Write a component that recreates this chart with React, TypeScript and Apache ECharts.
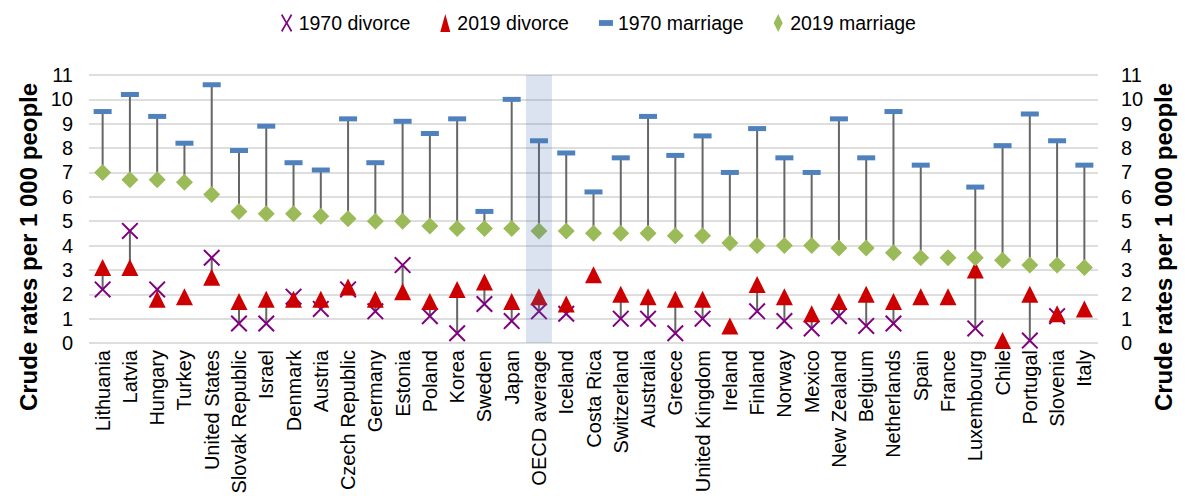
import React, { useEffect, useRef } from "react";
import * as echarts from "echarts";

const categories = [
  "Lithuania", "Latvia", "Hungary", "Turkey", "United States", "Slovak Republic", "Israel",
  "Denmark", "Austria", "Czech Republic", "Germany", "Estonia", "Poland", "Korea", "Sweden",
  "Japan", "OECD average", "Iceland", "Costa Rica", "Switzerland", "Australia", "Greece",
  "United Kingdom", "Ireland", "Finland", "Norway", "Mexico", "New Zealand", "Belgium",
  "Netherlands", "Spain", "France", "Luxembourg", "Chile", "Portugal", "Slovenia", "Italy",
];

const divorce1970 = [
  2.2, 4.6, 2.2, null, 3.5, 0.8, 0.8, 1.9, 1.4, 2.2, 1.3, 3.2, 1.1, 0.4, 1.6, 0.9, 1.3, 1.2,
  null, 1.0, 1.0, 0.4, 1.0, null, 1.3, 0.9, 0.6, 1.1, 0.7, 0.8, null, null, 0.6, null, 0.1, 1.1, null,
];

const divorce2019 = [
  3.1, 3.1, 1.8, 1.9, 2.7, 1.7, 1.8, 1.8, 1.8, 2.3, 1.8, 2.1, 1.7, 2.2, 2.5, 1.7, 1.9, 1.6,
  2.8, 2.0, 1.9, 1.8, 1.8, 0.7, 2.4, 1.9, 1.2, 1.7, 2.0, 1.7, 1.9, 1.9, 3.0, 0.1, 2.0, 1.2, 1.4,
];

const marriage1970 = [
  9.5, 10.2, 9.3, 8.2, 10.6, 7.9, 8.9, 7.4, 7.1, 9.2, 7.4, 9.1, 8.6, 9.2, 5.4, 10.0, 8.3, 7.8,
  6.2, 7.6, 9.3, 7.7, 8.5, 7.0, 8.8, 7.6, 7.0, 9.2, 7.6, 9.5, 7.3, null, 6.4, 8.1, 9.4, 8.3, 7.3,
];

const marriage2019 = [
  7.0, 6.7, 6.7, 6.6, 6.1, 5.4, 5.3, 5.3, 5.2, 5.1, 5.0, 5.0, 4.8, 4.7, 4.7, 4.7, 4.6, 4.6,
  4.5, 4.5, 4.5, 4.4, 4.4, 4.1, 4.0, 4.0, 4.0, 3.9, 3.9, 3.7, 3.5, 3.5, 3.5, 3.4, 3.2, 3.2, 3.1,
];

const yTicks = ["0", "1", "2", "3", "4", "5", "6", "7", "8", "9", "10", "11"];
const highlighted = "OECD average";
const axisTitle = "Crude rates per 1 000 people";

const FONT = '"Liberation Sans", Arial, sans-serif';
const X_PATH =
  "path://M0,1.4L1.4,0L8.5,7.1L15.6,0L17,1.4L9.9,8.5L17,15.6L15.6,17L8.5,9.9L1.4,17L0,15.6L7.1,8.5Z";
const X_ICON =
  "path://M0,1.2L1.2,0L5,6.6L8.8,0L10,1.2L5.9,8L10,14.8L8.8,16L5,9.4L1.2,16L0,14.8L4.1,8Z";

function pairs(a: (number | null)[], b: (number | null)[]) {
  const out: number[][] = [];
  a.forEach((v, i) => {
    const w = b[i];
    if (v != null && w != null) out.push([i, v, w]);
  });
  return out;
}

function connector(params: any, api: any) {
  const p1 = api.coord([api.value(0), api.value(1)]);
  const p2 = api.coord([api.value(0), api.value(2)]);
  return {
    type: "line",
    shape: { x1: p1[0], y1: p1[1], x2: p2[0], y2: p2[1] },
    style: { stroke: "#666666", lineWidth: 2 },
  };
}

export default function App() {
  const ref = useRef<HTMLDivElement>(null);
  useEffect(() => {
    if (!ref.current) return;
    const chart = echarts.init(ref.current, null, { renderer: "svg" });
    const yLabel = {
      fontFamily: FONT,
      fontSize: 20,
      color: "#000",
      showMinLabel: true,
      showMaxLabel: true,
      hideOverlap: false,
      formatter: (v: number) => yTicks[Math.round(v)],
    };
    const option: any = {
      animation: false,
      backgroundColor: "#ffffff",
      textStyle: { fontFamily: FONT },
      legend: {
        top: 8,
        left: 276,
        itemWidth: 14,
        itemHeight: 18,
        itemGap: 30,
        textStyle: { fontFamily: FONT, fontSize: 19.5, color: "#000" },
        data: [
          { name: "1970 divorce", icon: X_ICON, itemStyle: { color: "#800080" } },
          { name: "2019 divorce", icon: "path://M5,0L10,18L0,18Z", itemStyle: { color: "#cc0000" } },
          { name: "1970 marriage", icon: "path://M0,0L12,0L12,5L0,5Z", itemStyle: { color: "#4f81bd" } },
          { name: "2019 marriage", icon: "path://M4,0L8,8L4,16L0,8Z", itemStyle: { color: "#9bbb59" } },
        ],
      },
      grid: {
        left: 89,
        right: 87,
        top: 75,
        bottom: 153,
        containLabel: false,
        outerBoundsMode: "none",
      },
      xAxis: {
        type: "category",
        data: categories,
        boundaryGap: true,
        axisLine: { show: false },
        axisTick: { show: false },
        splitLine: { show: false },
        axisLabel: {
          rotate: 90,
          interval: 0,
          margin: 7,
          fontFamily: FONT,
          fontSize: 20,
          color: "#000",
        },
      },
      yAxis: [
        {
          type: "value",
          min: 0,
          max: 11,
          interval: 1,
          axisLine: { show: false },
          axisTick: { show: false },
          splitLine: { show: true, lineStyle: { color: "#dedede", width: 2 } },
          axisLabel: { ...yLabel, margin: 16 },
        },
        {
          type: "value",
          position: "right",
          min: 0,
          max: 11,
          interval: 1,
          axisLine: { show: false },
          axisTick: { show: false },
          splitLine: { show: false },
          axisLabel: { ...yLabel, margin: 23 },
        },
      ],
      graphic: [
        {
          type: "text",
          x: 28,
          y: 247,
          rotation: Math.PI / 2,
          style: {
            text: axisTitle,
            fontFamily: FONT,
            fontSize: 24,
            fontWeight: "bold",
            fill: "#000",
            textAlign: "center",
            textVerticalAlign: "middle",
          },
        },
        {
          type: "text",
          x: 1163,
          y: 247,
          rotation: Math.PI / 2,
          style: {
            text: axisTitle,
            fontFamily: FONT,
            fontSize: 24,
            fontWeight: "bold",
            fill: "#000",
            textAlign: "center",
            textVerticalAlign: "middle",
          },
        },
      ],
      series: [
        {
          name: "marriageLink",
          type: "custom",
          renderItem: connector,
          data: pairs(marriage1970, marriage2019),
          encode: { x: 0, y: [1, 2] },
          silent: true,
          z: 1,
        },
        {
          name: "divorceLink",
          type: "custom",
          renderItem: connector,
          data: pairs(divorce1970, divorce2019),
          encode: { x: 0, y: [1, 2] },
          silent: true,
          z: 1,
        },
        {
          name: "1970 divorce",
          type: "scatter",
          data: divorce1970,
          symbol: X_PATH,
          symbolSize: 17,
          itemStyle: { color: "#800080", opacity: 1 },
          z: 2,
        },
        {
          name: "2019 divorce",
          type: "scatter",
          data: divorce2019,
          symbol: "triangle",
          symbolSize: 17,
          itemStyle: { color: "#cc0000", opacity: 1 },
          z: 3,
        },
        {
          name: "1970 marriage",
          type: "scatter",
          data: marriage1970,
          symbol: "rect",
          symbolSize: [18, 5],
          itemStyle: { color: "#4f81bd", opacity: 1 },
          z: 3,
        },
        {
          name: "2019 marriage",
          type: "scatter",
          data: marriage2019,
          symbol: "diamond",
          symbolSize: 17,
          itemStyle: { color: "#9bbb59", opacity: 1 },
          z: 3,
        },
        {
          name: "band",
          type: "bar",
          data: categories.map((c) => (c === highlighted ? 11 : null)),
          barWidth: 26,
          itemStyle: { color: "rgba(70,115,175,0.2)" },
          silent: true,
          z: 5,
        },
      ],
    };
    chart.setOption(option);
    return () => chart.dispose();
  }, []);
  return (
    <div
      ref={ref}
      style={{ position: "fixed", left: 0, top: 0, width: 1185, height: 496 }}
    />
  );
}
